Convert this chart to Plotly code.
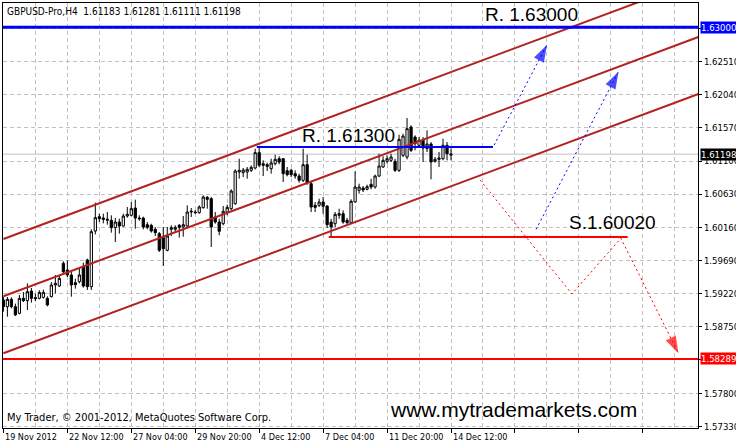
import plotly.graph_objects as go

# ---------------- data ----------------
opens = [1.59127,1.59032,1.59136,1.59032,1.58937,1.59150,1.59117,1.59254,1.59160,1.59150,
         1.59164,1.59150,1.59174,1.59340,1.59325,1.59647,1.59553,1.59482,1.59373,1.59387,
         1.59600,1.59695,1.59316,1.60106,1.60310,1.60291,1.60258,1.60258,1.60154,1.60234,
         1.60177,1.60319,1.60329,1.60433,1.60291,1.60291,1.60196,1.60187,1.60130,1.60069,
         1.60012,1.59832,1.60130,1.60130,1.60187,1.60163,1.60177,1.60376,1.60376,1.60367,
         1.60438,1.60584,1.60565,1.60305,1.60234,1.60210,1.60376,1.60423,1.60494,1.60944,
         1.60935,1.60944,1.60968,1.61001,1.61219,1.61062,1.61048,1.60991,1.61062,1.61133,
         1.61133,1.60963,1.60968,1.60920,1.60887,1.60826,1.61048,1.60778,1.60471,1.60471,
         1.60518,1.60461,1.60234,1.60210,1.60329,1.60352,1.60258,1.60225,1.60518,1.60684,
         1.60717,1.60698,1.60769,1.60731,1.60887,1.61015,1.61096,1.61110,1.61096,1.60968,
         1.61181,1.61157,1.61583,1.61441,1.61323,1.61394,1.61275,1.61342,1.61096,1.61124,
         1.61133,1.61323,1.61183]
highs = [1.59174,1.59169,1.59164,1.59075,1.59198,1.59240,1.59363,1.59297,1.59217,1.59264,
         1.59273,1.59179,1.59382,1.59482,1.59477,1.59676,1.59690,1.59524,1.59430,1.59572,
         1.59657,1.59714,1.60130,1.60509,1.60352,1.60352,1.60376,1.60329,1.60291,1.60281,
         1.60352,1.60447,1.60518,1.60551,1.60329,1.60310,1.60234,1.60210,1.60163,1.60092,
         1.60163,1.60163,1.60187,1.60187,1.60206,1.60319,1.60471,1.60433,1.60405,1.60471,
         1.60613,1.60603,1.60589,1.60376,1.60281,1.60461,1.60480,1.60698,1.60982,1.61133,
         1.61001,1.61015,1.61039,1.61275,1.61309,1.61110,1.61077,1.61133,1.61190,1.61167,
         1.61143,1.61015,1.60991,1.60968,1.60920,1.61275,1.61190,1.60802,1.60518,1.60565,
         1.60589,1.60471,1.60281,1.60376,1.60423,1.60400,1.60291,1.60556,1.60954,1.60778,
         1.60745,1.60764,1.60849,1.60906,1.61204,1.61167,1.61181,1.61204,1.61133,1.61474,
         1.61488,1.61711,1.61607,1.61465,1.61441,1.61441,1.61536,1.61370,1.61157,1.61228,
         1.61417,1.61370,1.61281]
lows = [1.58961,1.58890,1.59008,1.58899,1.58923,1.59098,1.58985,1.59089,1.59108,1.59136,
        1.59146,1.59037,1.59164,1.59221,1.59311,1.59505,1.59453,1.59174,1.59288,1.59363,
        1.59302,1.59269,1.59269,1.60059,1.60234,1.60215,1.60196,1.60083,1.59950,1.60069,
        1.60168,1.60296,1.60315,1.60139,1.60253,1.60130,1.60130,1.60083,1.60035,1.59808,
        1.59609,1.59818,1.60035,1.60092,1.60012,1.60026,1.60163,1.60305,1.60348,1.60352,
        1.60423,1.60423,1.59879,1.60210,1.60045,1.60187,1.60329,1.60400,1.60480,1.60849,
        1.60873,1.60849,1.60944,1.60982,1.61015,1.60887,1.60958,1.60920,1.61039,1.61053,
        1.60802,1.60883,1.60873,1.60849,1.60793,1.60802,1.60764,1.60376,1.60376,1.60447,
        1.60352,1.60149,1.60021,1.60163,1.60281,1.60210,1.60187,1.60210,1.60509,1.60636,
        1.60660,1.60684,1.60698,1.60707,1.60873,1.61001,1.61062,1.61086,1.60944,1.60944,
        1.61157,1.61124,1.61228,1.61252,1.61285,1.61086,1.61228,1.60840,1.61077,1.61015,
        1.61110,1.61110,1.61111]
closes = [1.59032,1.59136,1.59032,1.58914,1.59150,1.59117,1.59245,1.59150,1.59146,1.59235,
          1.59235,1.59056,1.59340,1.59363,1.59434,1.59529,1.59482,1.59340,1.59344,1.59482,
          1.59325,1.59316,1.60097,1.60296,1.60281,1.60272,1.60272,1.60154,1.60234,1.60177,
          1.60319,1.60343,1.60423,1.60291,1.60281,1.60163,1.60158,1.60106,1.60083,1.59832,
          1.59856,1.60035,1.60154,1.60158,1.60158,1.60196,1.60376,1.60386,1.60367,1.60447,
          1.60589,1.60556,1.60163,1.60234,1.60102,1.60386,1.60442,1.60674,1.60958,1.60968,
          1.60972,1.60982,1.61010,1.61219,1.61039,1.61039,1.61025,1.61072,1.61124,1.61086,
          1.60920,1.60906,1.60906,1.60887,1.60826,1.61048,1.60788,1.60447,1.60442,1.60518,
          1.60457,1.60196,1.60163,1.60343,1.60352,1.60234,1.60225,1.60528,1.60731,1.60731,
          1.60689,1.60736,1.60731,1.60887,1.61029,1.61110,1.61133,1.61157,1.60968,1.61408,
          1.61455,1.61559,1.61252,1.61346,1.61394,1.61285,1.61342,1.61086,1.61124,1.61143,
          1.61323,1.61204,1.61198]
bars = list(range(len(opens)))

date_label_bars = [0, 16, 32, 48, 64, 80, 96, 112]
date_labels = ["19 Nov 2012", "22 Nov 12:00", "27 Nov 04:00", "29 Nov 20:00",
               "4 Dec 12:00", "7 Dec 04:00", "11 Dec 20:00", "14 Dec 12:00"]

price_ticks = [1.62980, 1.62510, 1.62040, 1.61570, 1.61100, 1.60630, 1.60160,
               1.59690, 1.59220, 1.58750, 1.58280, 1.57800, 1.57330]
price_tick_text = ["", "1.62510", "1.62040", "1.61570", "1.61100", "1.60630", "1.60160",
                   "1.59690", "1.59220", "1.58750", "", "1.57800", "1.57330"]

# channel (two anchor bars and prices)
channel_bars = [0, 174]
channel_upper = [1.59992, 1.63676]
channel_middle = [1.59179, 1.62863]
channel_lower = [1.58370, 1.62054]

# key levels
level_r_high = 1.63000
level_s_low = 1.58289
bid_price = 1.61198
r_level_bars = [63.4, 122.5]
r_level = 1.61300
s_level_bars = [81.4, 156.2]
s_level = 1.60020

# projection paths
blue_path1_bars = [122.8, 136.0]
blue_path1_prices = [1.61327, 1.62747]
blue_path2_bars = [133.3, 153.9]
blue_path2_prices = [1.60130, 1.62368]
red_path_bars = [119.3, 142.25, 154.5, 168.9]
red_path_prices = [1.60830, 1.59212, 1.60003, 1.58370]

x_range = [-0.1, 173.8]
y_range = [1.57309, 1.63344]

FONT = "DejaVu Sans Condensed, DejaVu Sans, sans-serif"
BIG = "Liberation Sans, Arial, sans-serif"
CH = "#B22222"

fig = go.Figure()

fig.add_trace(go.Candlestick(
    x=bars, open=opens, high=highs, low=lows, close=closes,
    increasing=dict(line=dict(color="black", width=1), fillcolor="white"),
    decreasing=dict(line=dict(color="black", width=1), fillcolor="black"),
    whiskerwidth=0, showlegend=False, hoverinfo="skip"))

for ys in (channel_upper, channel_middle, channel_lower):
    fig.add_trace(go.Scatter(x=channel_bars, y=ys, mode="lines",
                             line=dict(color=CH, width=2), showlegend=False,
                             hoverinfo="skip", cliponaxis=True))

fig.add_trace(go.Scatter(x=r_level_bars, y=[r_level, r_level], mode="lines",
                         line=dict(color="#0000FF", width=2), showlegend=False, hoverinfo="skip"))
fig.add_trace(go.Scatter(x=s_level_bars, y=[s_level, s_level], mode="lines",
                         line=dict(color="#FF0000", width=2), showlegend=False, hoverinfo="skip"))

def arrow_path(xs, ys, color):
    fig.add_trace(go.Scatter(x=xs, y=ys, mode="lines",
                             line=dict(color=color, width=1, dash="2px,3px"),
                             showlegend=False, hoverinfo="skip"))
    fig.add_trace(go.Scatter(x=xs[-2:], y=ys[-2:], mode="markers",
                             marker=dict(symbol="arrow", angleref="previous",
                                         size=[0, 18], color=color,
                                         line=dict(width=0)),
                             showlegend=False, hoverinfo="skip"))

arrow_path(blue_path1_bars, blue_path1_prices, "#0000FF")
arrow_path(blue_path2_bars, blue_path2_prices, "#0000FF")
arrow_path(red_path_bars, red_path_prices, "#FF0000")

shapes = [
    dict(type="line", xref="paper", x0=0, x1=1, yref="y", y0=bid_price, y1=bid_price,
         line=dict(color="#C0C0C0", width=1), layer="below"),
    dict(type="line", xref="paper", x0=0, x1=1, yref="y", y0=level_r_high, y1=level_r_high,
         line=dict(color="#0000FF", width=3)),
    dict(type="line", xref="paper", x0=0, x1=1, yref="y", y0=level_s_low, y1=level_s_low,
         line=dict(color="#FF0000", width=2)),
]

annotations = []
for b, t in zip(date_label_bars, date_labels):
    annotations.append(dict(x=b, xref="x", y=0, yref="paper", yshift=-2, text=t,
                            showarrow=False, xanchor="left", yanchor="top",
                            font=dict(family=FONT, size=9, color="black")))

for val, bg, fg in ((level_r_high, "#0000FF", "white"), (bid_price, "black", "white"),
                    (level_s_low, "#FF0000", "white")):
    annotations.append(dict(x=1, xref="paper", xshift=2, y=val, yref="y",
                            text=f"{val:.5f}", showarrow=False, xanchor="left",
                            yanchor="middle", bgcolor=bg, borderpad=0,
                            font=dict(family=FONT, size=9.5, color=fg)))

annotations += [
    dict(x=0, xref="paper", xshift=2, y=1, yref="paper", yshift=-1,
         text="GBPUSD-Pro,H4  1.61183 1.61281 1.61111 1.61198", showarrow=False,
         xanchor="left", yanchor="top", font=dict(family=FONT, size=10, color="black")),
    dict(x=0, xref="paper", xshift=2, y=0, yref="paper", yshift=2,
         text="My Trader, © 2001-2012, MetaQuotes Software Corp.", showarrow=False,
         xanchor="left", yanchor="bottom", font=dict(family=FONT, size=11, color="black")),
    dict(x=120.1, xref="x", y=1.63180, yref="y", text="R. 1.63000", showarrow=False,
         xanchor="left", yanchor="middle", font=dict(family=BIG, size=19, color="black")),
    dict(x=74.3, xref="x", y=1.61462, yref="y", text="R. 1.61300", showarrow=False,
         xanchor="left", yanchor="middle", font=dict(family=BIG, size=19, color="black")),
    dict(x=141.1, xref="x", y=1.60234, yref="y", text="S.1.60020", showarrow=False,
         xanchor="left", yanchor="middle", font=dict(family=BIG, size=19, color="black")),
    dict(x=0.554, xref="paper", y=0.0447, yref="paper", text="www.mytrademarkets.com",
         showarrow=False, xanchor="left", yanchor="middle",
         font=dict(family=BIG, size=21, color="black")),
]

grid = "#C0C0C0"
fig.update_layout(
    width=736, height=445,
    margin=dict(l=3, r=38, t=3, b=17, autoexpand=False),
    paper_bgcolor="white", plot_bgcolor="white",
    showlegend=False, hovermode=False, boxgap=0.2,
    shapes=shapes, annotations=annotations,
    xaxis=dict(range=x_range, rangeslider=dict(visible=False), tickmode="linear",
               tick0=0, dtick=16, ticks="outside", ticklen=4, tickcolor="black",
               showticklabels=False, showgrid=True, gridcolor=grid, griddash="4px,3px",
               gridwidth=1, zeroline=False, showline=True, linecolor="black",
               linewidth=1, mirror=True,
               minor=dict(tickmode="linear", tick0=0, dtick=8, showgrid=True,
                          gridcolor=grid, griddash="4px,3px", ticks="")),
    yaxis=dict(range=y_range, side="right", tickmode="array", tickvals=price_ticks,
               ticktext=price_tick_text, ticks="outside", ticklen=3, tickcolor="black",
               showgrid=True, gridcolor=grid, griddash="4px,3px", zeroline=False,
               showline=True, linecolor="black", linewidth=1, mirror=True,
               tickfont=dict(family=FONT, size=9.5, color="black")),
)

fig.write_html("out.html", config=dict(displayModeBar=False),
               post_script="document.body.style.margin='0px';document.body.style.overflow='hidden';")
